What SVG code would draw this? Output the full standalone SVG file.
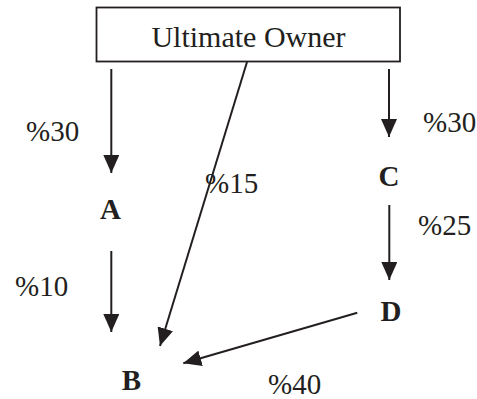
<svg xmlns="http://www.w3.org/2000/svg" width="477" height="399" viewBox="0 0 477 399">
<style>
.t{font-family:"Liberation Serif","Times New Roman",serif;font-size:29px;fill:#231f20}
.b{font-weight:bold;text-anchor:middle}
.c{stroke:#231f20;stroke-width:2;fill:none}
</style>
<defs>
<marker id="ah" markerUnits="userSpaceOnUse" markerWidth="18" markerHeight="16" refX="18" refY="8" orient="auto" viewBox="0 0 18 16">
<path d="M0,0 L18,8 L0,16 z" fill="#231f20"/>
</marker>
</defs>
<rect width="477" height="399" fill="#fff"/>
<g id="owner">
<rect x="96.5" y="7.5" width="303.5" height="54" fill="#fff" stroke="#231f20" stroke-width="1.8"/>
<text class="t" x="248.5" y="47" text-anchor="middle" style="font-size:30px">Ultimate Owner</text>
</g>
<g id="A"><text class="t b" x="110.5" y="219">A</text></g>
<g id="B"><text class="t b" x="131.5" y="390">B</text></g>
<g id="C"><text class="t b" x="389" y="186">C</text></g>
<g id="D"><text class="t b" x="391" y="321">D</text></g>
<g id="connectors">
<line class="c" x1="111.3" y1="69" x2="111.3" y2="173" marker-end="url(#ah)"/>
<line class="c" x1="111.3" y1="251" x2="111.3" y2="332" marker-end="url(#ah)"/>
<line class="c" x1="247" y1="62" x2="160" y2="346" marker-end="url(#ah)"/>
<line class="c" x1="389" y1="69" x2="389" y2="137" marker-end="url(#ah)"/>
<line class="c" x1="389.3" y1="205" x2="389.3" y2="280" marker-end="url(#ah)"/>
<line class="c" x1="357.3" y1="312.7" x2="183.3" y2="363.3" marker-end="url(#ah)"/>
</g>
<g id="labels">
<text class="t" x="26" y="141">%30</text>
<text class="t" x="15" y="296">%10</text>
<text class="t" x="205" y="193">%15</text>
<text class="t" x="423" y="132">%30</text>
<text class="t" x="418" y="235">%25</text>
<text class="t" x="268" y="394">%40</text>
</g>
</svg>
